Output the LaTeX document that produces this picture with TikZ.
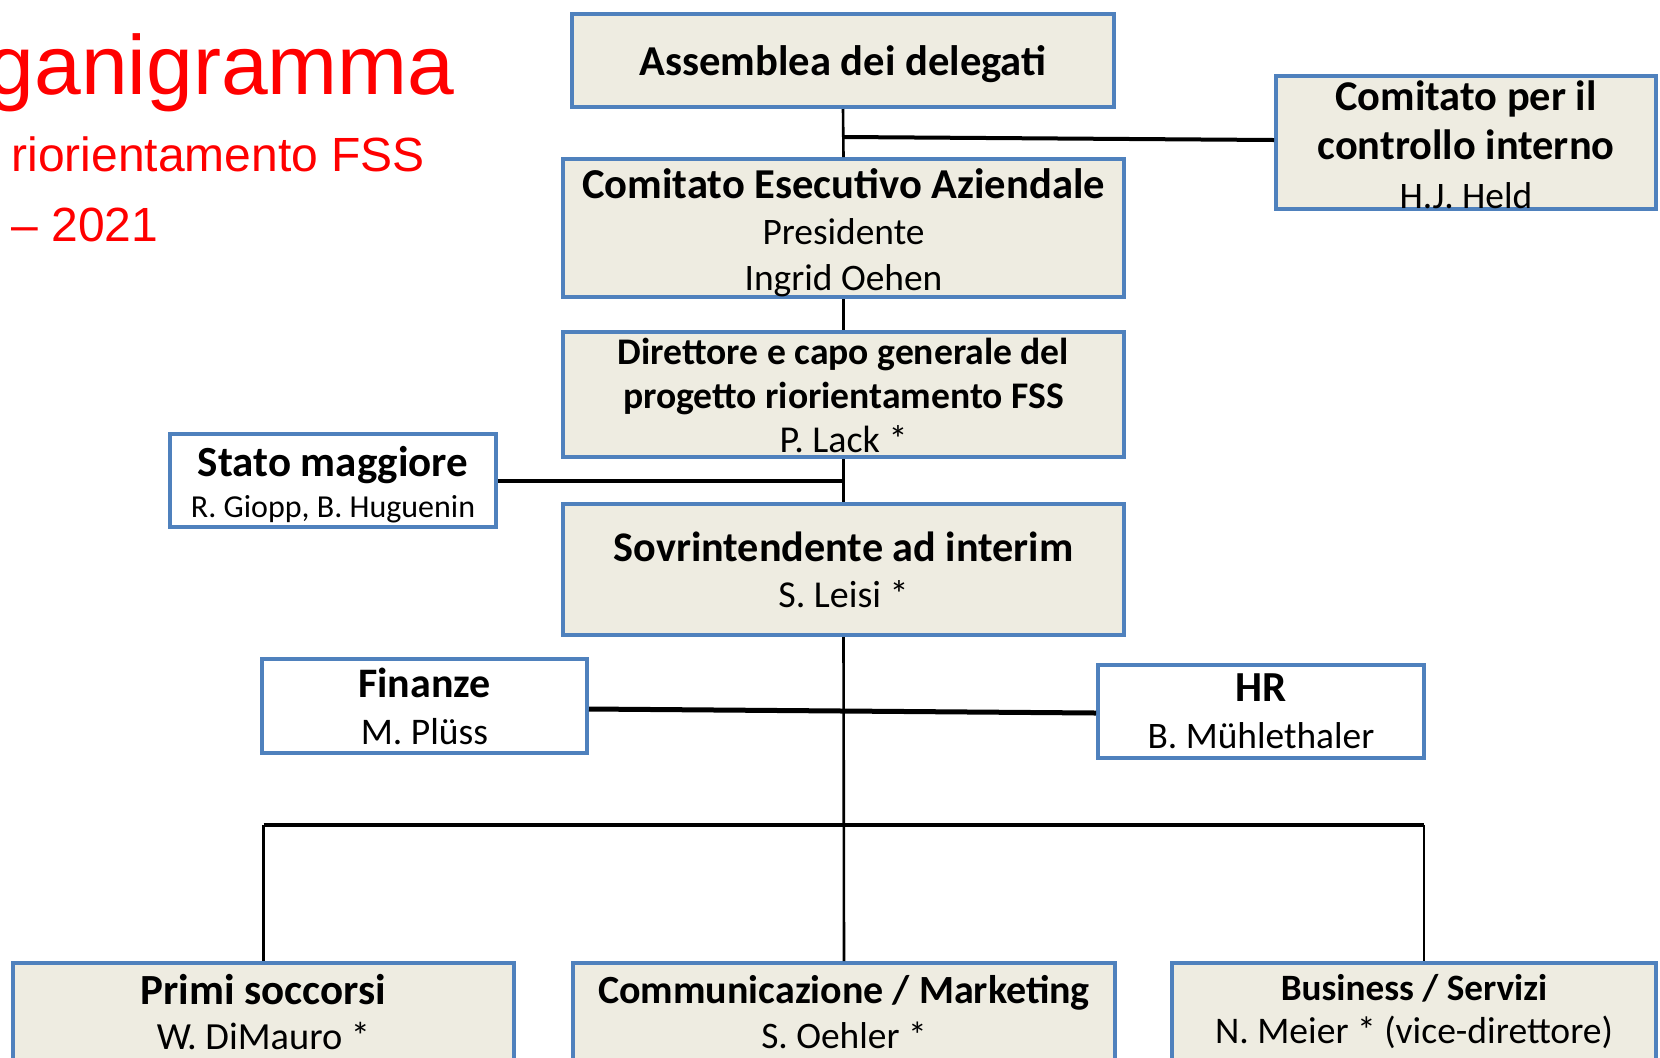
\documentclass[tikz,border=0pt]{standalone}
\usepackage{fontspec}
\setmainfont{Carlito}
\newfontfamily\arialfont{Liberation Sans}
\definecolor{boxblue}{HTML}{4F81BD}
\definecolor{boxfill}{HTML}{EEECE1}
\definecolor{titlered}{HTML}{FF0000}
\tikzset{
  box/.style={draw=boxblue, line width=2pt, fill=boxfill, rectangle, inner sep=0pt, align=center, text=black},
  wbox/.style={box, fill=white},
  sz/.style 2 args={minimum width=#1*0.5pt, minimum height=#2*0.5pt},
  conn/.style={draw=black, line width=1.3pt},
  hconn/.style={draw=black, line width=2pt},
  title/.style={text=titlered, inner sep=0pt}
}
\newcommand{\fs}[2]{\fontsize{#1}{#2}\selectfont}
% add extra height above a first line: moves the whole text block down by half of #1
\newcommand{\lowerby}[2]{\raisebox{0pt}[\dimexpr\height+#1\relax]{#2}}
\begin{document}
\begin{tikzpicture}[x=0.5pt,y=-0.5pt]
\useasboundingbox (0,0) rectangle (1660,1057);
\fill[white] (0,0) rectangle (1660,1057);

% title
\node[title, anchor=base east, font=\arialfont\fs{42}{50}] (t1) at (455,94) {ganigramma};
\node[title, anchor=base west, font=\arialfont\fs{24}{28}] (t2) at (11,171) {riorientamento FSS};
\node[title, anchor=base west, font=\arialfont\fs{24}{28}] (t3) at (11,241) {– 2021};

% boxes
\node[box, sz={542}{93}, font=\fs{21.3}{24}\bfseries] (ass) at (843,60.5)
  {\lowerby{3.2pt}{Assemblea dei delegati}};
\node[box, sz={380}{133}, font=\fs{21.2}{24.5}\bfseries] (ctrl) at (1466,142.5)
  {\lowerby{2pt}{Comitato per il}\\controllo interno\\\mdseries\fs{18.7}{24.5}H.J. Held};
\node[box, sz={561}{132}, font=\fs{21.3}{23}\bfseries] (cea) at (843.5,228)
  {\lowerby{4.8pt}{Comitato Esecutivo Aziendale}\\\mdseries\fs{18.7}{23}Presidente\\\mdseries\fs{18.7}{23}Ingrid Oehen};
\node[box, sz={561}{125}, font=\fs{18.8}{22}\bfseries] (dir) at (843.5,394.5)
  {\lowerby{1pt}{Direttore e capo generale del}\\progetto riorientamento FSS\\\mdseries\fs{19}{22}P. Lack *};
\node[wbox, sz={326}{93}, font=\fs{21.5}{20.5}\bfseries] (stato) at (333,480.5)
  {\lowerby{4.2pt}{Stato maggiore}\\\mdseries\fs{16}{20.5}R. Giopp, B. Huguenin};
\node[box, sz={561}{131}, font=\fs{21.1}{23}\bfseries] (sovr) at (843.5,569.5)
  {Sovrintendente ad interim\\\mdseries\fs{19}{23}S. Leisi *};
\node[wbox, sz={325}{94}, font=\fs{21}{23.5}\bfseries] (fin) at (424.5,706)
  {Finanze\\\mdseries\fs{18.8}{23.5}M. Plüss};
\node[wbox, sz={326}{93}, font=\fs{21.4}{23.5}\bfseries] (hr) at (1261,711.5)
  {HR\\\mdseries\fs{18.7}{23.5}B. Mühlethaler};
\node[box, sz={501}{98}, font=\fs{21.5}{22.5}\bfseries] (primi) at (263.5,1012)
  {Primi soccorsi\\\mdseries\fs{19.2}{22.5}W. DiMauro *};
\node[box, sz={542}{98}, font=\fs{20}{22.5}\bfseries] (comm) at (844,1012)
  {Communicazione / Marketing\\\mdseries\fs{18.7}{22.5}S. Oehler *};
\node[box, sz={484}{98}, font=\fs{18.6}{21.5}\bfseries] (busi) at (1414,1012)
  {Business / Servizi\\\mdseries\fs{18.8}{21.5}N. Meier * (vice-direttore)};

% junction coordinates
\coordinate (jctrl) at (844,137);
\coordinate (busL) at (263.5,825);
\coordinate (busR) at (1424,825);

% connectors
\draw[conn] (ass.south) -- (cea.north);
\draw[hconn] (jctrl) -- ([yshift=1.25pt]ctrl.west);
\draw[conn] (cea.south) -- (dir.north);
\draw[conn] (dir.south) -- (sovr.north);
\draw[hconn] (stato.east) -- (stato.east -| dir.south);
\draw[conn] (sovr.south) -- (comm.north);
\draw[hconn, line width=2.5pt] ([yshift=-1.5pt]fin.east) -- ([yshift=-0.75pt]hr.west);
\draw[hconn] (busL) -- (busR);
\draw[conn] (busL) -- (primi.north);
\draw[conn] (busR) -- (busR |- busi.north);
\end{tikzpicture}
\end{document}
